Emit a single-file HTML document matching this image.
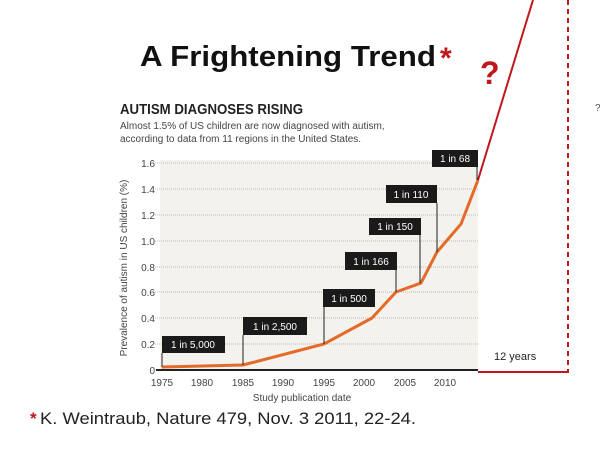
<!DOCTYPE html>
<html><head><style>
body{margin:0;background:#fff;width:600px;height:449px;overflow:hidden;font-family:"Liberation Sans",sans-serif}
</style></head><body>
<svg width="600" height="449" viewBox="0 0 600 449" xmlns="http://www.w3.org/2000/svg" font-family="Liberation Sans, sans-serif">
<text x="140" y="66" font-size="29" font-weight="bold" fill="#111" textLength="296" lengthAdjust="spacingAndGlyphs">A Frightening Trend</text>
<text x="440" y="68" font-size="30" font-weight="bold" fill="#c0171c">*</text>
<text x="480" y="84" font-size="32" font-weight="bold" fill="#c0171c">?</text>
<text x="595" y="111" font-size="10" fill="#555">?</text>
<text x="120" y="114" font-size="15" font-weight="bold" fill="#222" textLength="183" lengthAdjust="spacingAndGlyphs">AUTISM DIAGNOSES RISING</text>
<text x="120" y="129" font-size="10" fill="#444">Almost 1.5% of US children are now diagnosed with autism,</text>
<text x="120" y="142" font-size="10" fill="#444">according to data from 11 regions in the United States.</text>
<rect x="160" y="160" width="318" height="210" fill="#f4f2ec"/>
<g stroke="#bbb" stroke-dasharray="1,1" stroke-width="1">
<line x1="155" x2="478" y1="163" y2="163"/><line x1="155" x2="478" y1="189" y2="189"/>
<line x1="155" x2="478" y1="215" y2="215"/><line x1="155" x2="478" y1="241" y2="241"/>
<line x1="155" x2="478" y1="267" y2="267"/><line x1="155" x2="478" y1="292" y2="292"/>
<line x1="155" x2="478" y1="318" y2="318"/><line x1="155" x2="478" y1="344" y2="344"/>
</g>
<g font-size="10" fill="#444" text-anchor="end">
<text x="155" y="167">1.6</text><text x="155" y="193">1.4</text><text x="155" y="219">1.2</text>
<text x="155" y="245">1.0</text><text x="155" y="271">0.8</text><text x="155" y="296">0.6</text>
<text x="155" y="322">0.4</text><text x="155" y="348">0.2</text><text x="155" y="374">0</text>
</g>
<text transform="translate(127,268) rotate(-90)" font-size="10" fill="#444" text-anchor="middle">Prevalence of autism in US children (%)</text>
<line x1="156" x2="478" y1="370" y2="370" stroke="#222" stroke-width="2"/>
<g font-size="10" fill="#444" text-anchor="middle">
<text x="162" y="386">1975</text><text x="202" y="386">1980</text><text x="243" y="386">1985</text>
<text x="283" y="386">1990</text><text x="324" y="386">1995</text><text x="364" y="386">2000</text>
<text x="405" y="386">2005</text><text x="445" y="386">2010</text>
<text x="302" y="401">Study publication date</text>
</g>
<polyline points="162,367 243,365 324,344 372,318 396,292 421,283 437,252 461,224 478,180" fill="none" stroke="#e46a2a" stroke-width="3"/>
<line x1="478" y1="180" x2="533" y2="0" stroke="#c0171c" stroke-width="2"/>
<line x1="568" y1="0" x2="568" y2="372" stroke="#c0171c" stroke-width="2" stroke-dasharray="5,4"/>
<line x1="478" y1="372" x2="569" y2="372" stroke="#c0171c" stroke-width="2"/>
<text x="494" y="360" font-size="11" fill="#222">12 years</text>
<g stroke="#222" stroke-width="1">
<line x1="162" y1="353" x2="162" y2="367"/><line x1="243" y1="335" x2="243" y2="365"/>
<line x1="324" y1="307" x2="324" y2="344"/><line x1="396" y1="270" x2="396" y2="292"/>
<line x1="420" y1="235" x2="420" y2="283"/><line x1="437" y1="203" x2="437" y2="252"/>
<line x1="477" y1="167" x2="477" y2="180"/>
</g>
<g fill="#1a1a1a">
<rect x="162" y="336" width="63" height="17"/><rect x="243" y="317" width="64" height="18"/>
<rect x="323" y="289" width="52" height="18"/><rect x="345" y="252" width="52" height="18"/>
<rect x="369" y="218" width="52" height="17"/><rect x="386" y="185" width="51" height="18"/>
<rect x="432" y="150" width="46" height="17"/>
</g>
<g font-size="10" fill="#fff" text-anchor="middle">
<text x="193" y="348">1 in 5,000</text><text x="275" y="330">1 in 2,500</text>
<text x="349" y="302">1 in 500</text><text x="371" y="265">1 in 166</text>
<text x="395" y="230">1 in 150</text><text x="411" y="198">1 in 110</text>
<text x="455" y="162">1 in 68</text>
</g>
<text x="30" y="424" font-size="17" fill="#c0171c" font-weight="bold">*</text>
<text x="40" y="424" font-size="17" fill="#222" textLength="376" lengthAdjust="spacingAndGlyphs">K. Weintraub, Nature 479, Nov. 3 2011, 22-24.</text>
</svg>
</body></html>
